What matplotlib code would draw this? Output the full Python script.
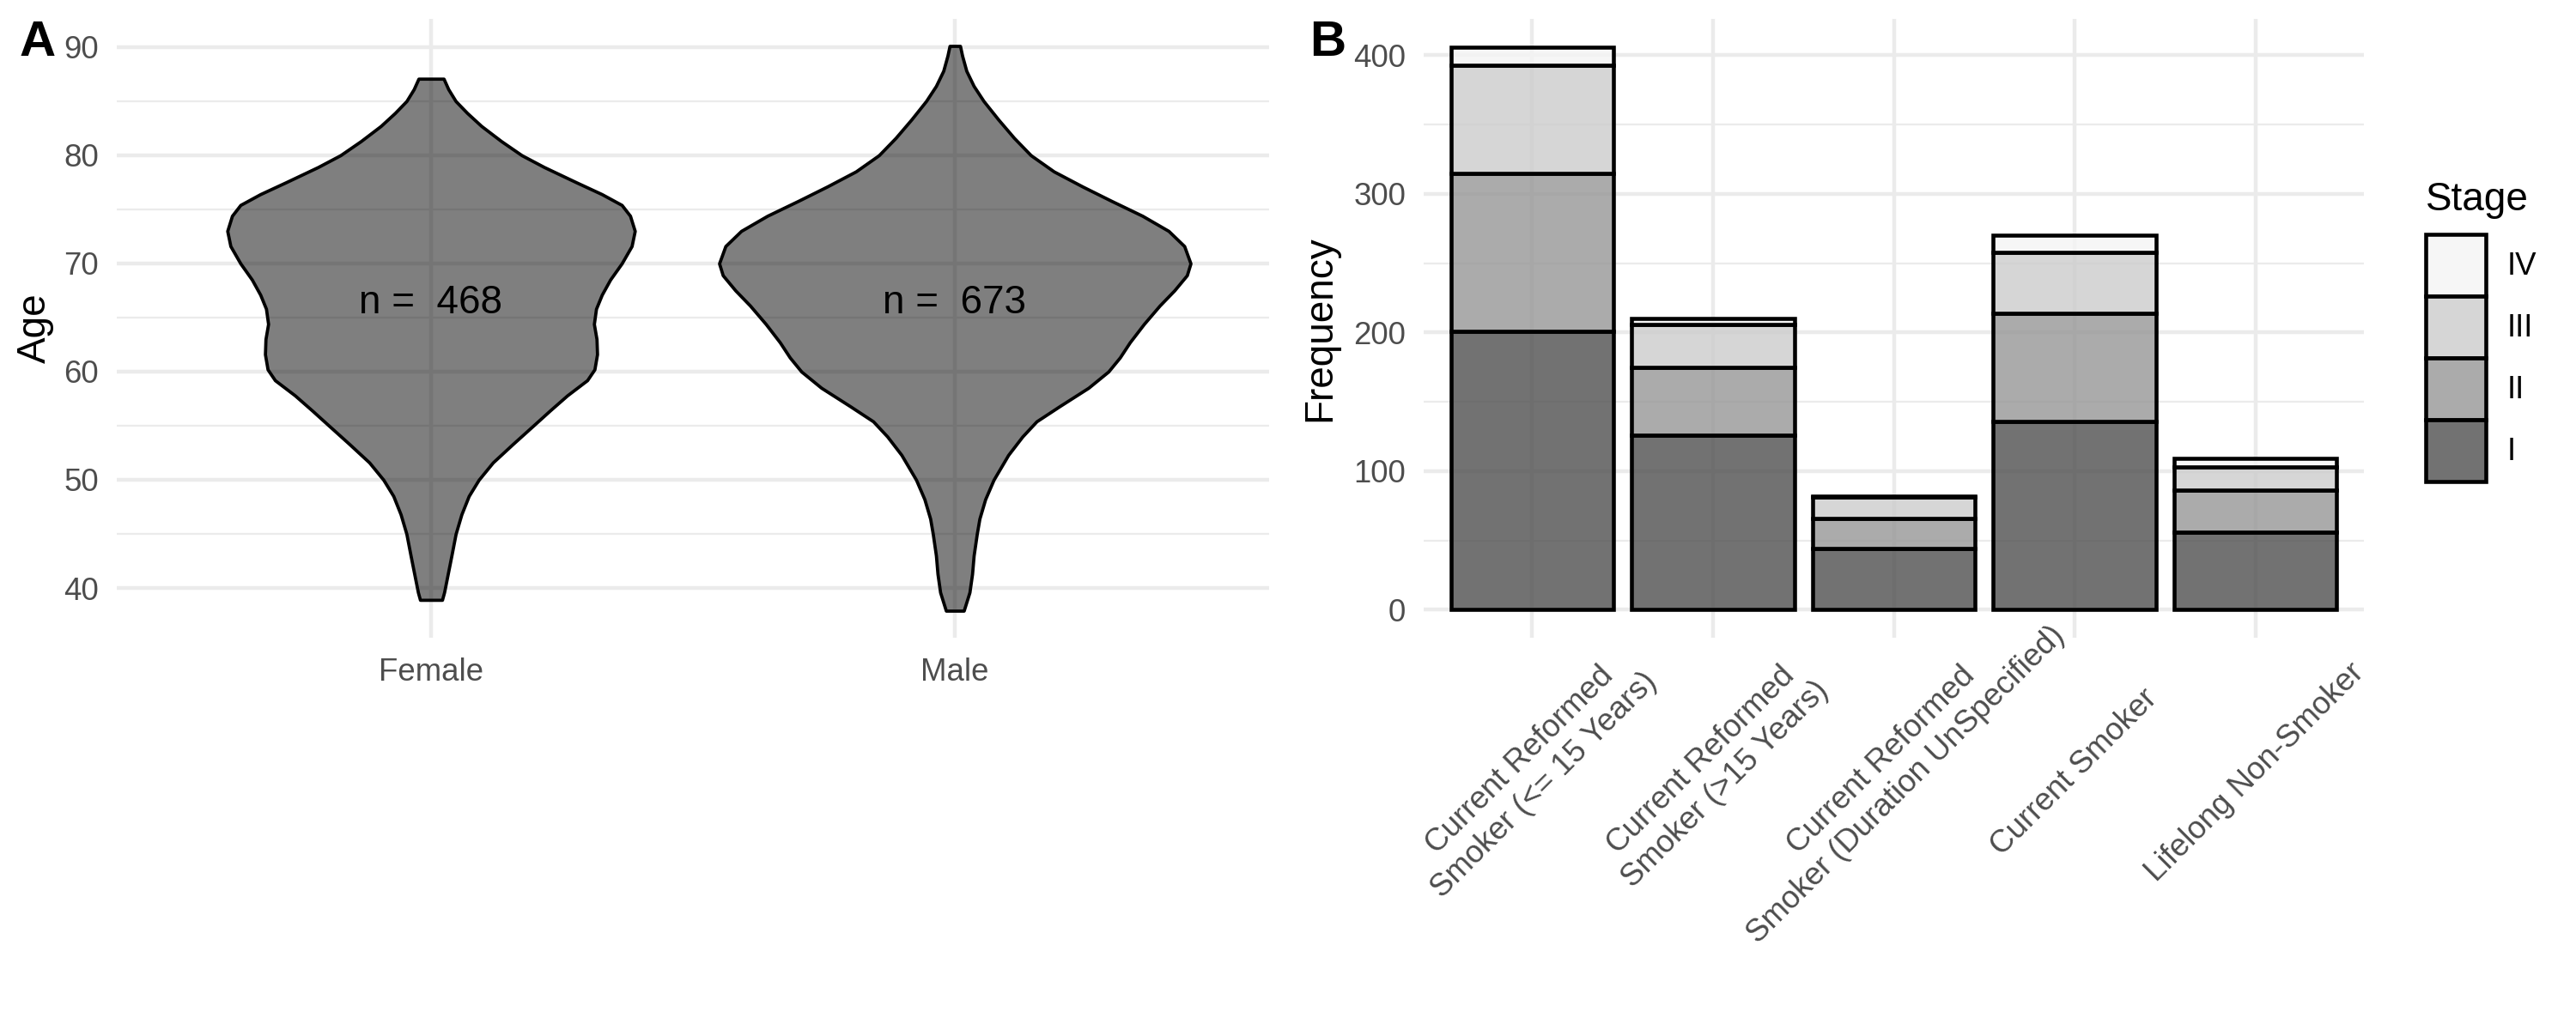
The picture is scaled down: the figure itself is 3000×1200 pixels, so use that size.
#!/usr/bin/env python3
"""
Two-panel figure: age distribution by sex (violin) and stage counts
by smoking history (stacked bars).
"""

import matplotlib
matplotlib.use('Agg')
import matplotlib.pyplot as plt
from matplotlib.patches import Patch

plt.rcParams['font.family'] = ['Liberation Sans', 'DejaVu Sans']

# ---- Panel A data: violin outlines (age, half-width) ----
sexes = ['Female', 'Male']
sex_counts = [468, 673]

female_age = [38.9, 39.6, 41.3, 43.0, 45.0, 46.8, 48.5, 50.0, 51.6, 53.3,
              55.0, 56.4, 57.8, 59.2, 60.2, 61.6, 63.0, 64.4, 65.8, 67.1,
              68.5, 70.0, 71.6, 73.0, 74.4, 75.4, 76.4, 77.5, 78.9, 80.0,
              81.3, 82.7, 83.9, 85.0, 86.1, 87.07]
female_halfwidth = [0.021, 0.025, 0.032, 0.039, 0.047, 0.058, 0.072, 0.091,
                    0.118, 0.156, 0.195, 0.227, 0.260, 0.298, 0.312, 0.317,
                    0.316, 0.311, 0.315, 0.326, 0.342, 0.364, 0.383, 0.389,
                    0.380, 0.364, 0.326, 0.277, 0.216, 0.173, 0.134, 0.096,
                    0.069, 0.047, 0.033, 0.024]

male_age = [37.9, 39.6, 41.3, 43.0, 45.0, 46.4, 48.2, 50.0, 52.3, 54.0,
            55.4, 56.8, 58.5, 60.0, 61.3, 62.7, 64.4, 66.1, 67.5, 68.9,
            70.0, 71.6, 73.0, 74.4, 75.8, 77.1, 78.5, 80.0, 81.6, 83.3,
            85.0, 86.4, 87.8, 89.2, 90.1]
male_halfwidth = [0.017, 0.028, 0.033, 0.036, 0.042, 0.047, 0.058, 0.074,
                  0.102, 0.129, 0.156, 0.200, 0.255, 0.293, 0.315, 0.334,
                  0.361, 0.391, 0.419, 0.443, 0.450, 0.438, 0.408, 0.358,
                  0.298, 0.244, 0.189, 0.145, 0.113, 0.083, 0.055, 0.036,
                  0.022, 0.014, 0.010]

# ---- Panel B data: stage counts per smoking category ----
smoking_categories = [
    'Current Reformed\nSmoker (<= 15 Years)',
    'Current Reformed\nSmoker (>15 Years)',
    'Current Reformed\nSmoker (Duration UnSpecified)',
    'Current Smoker',
    'Lifelong Non-Smoker',
]
stages = ['I', 'II', 'III', 'IV']
stage_I = [201, 126, 44, 136, 56]
stage_II = [114, 49, 22, 78, 30]
stage_III = [78, 31, 15, 44, 17]
stage_IV = [13, 4, 1, 12, 6]

# ---- Style ----
GRID = '#EBEBEB'
TICK_COLOR = '#4D4D4D'
stage_colors = ['#4F4F4F', '#969696', '#CCCCCC', '#F4F4F4']
BAR_ALPHA = 0.8


def style_axes(ax):
    for s in ax.spines.values():
        s.set_visible(False)
    ax.set_axisbelow(True)
    ax.grid(which='major', color=GRID, linewidth=1.07)
    ax.grid(which='minor', axis='y', color=GRID, linewidth=0.55)
    ax.tick_params(which='both', length=0, labelsize=8.8, labelcolor=TICK_COLOR)
    ax.tick_params(axis='y', pad=5)


fig = plt.figure(figsize=(10, 4), dpi=300)

# ---------------- Panel A ----------------
ax_a = fig.add_axes([136 / 3000, 1 - 743 / 1200, 1342 / 3000, 721 / 1200])
style_axes(ax_a)
ax_a.set_xlim(0.4, 2.6)
ax_a.set_ylim(35.4, 92.6)
ax_a.set_yticks([40, 50, 60, 70, 80, 90])
ax_a.set_yticks([45, 55, 65, 75, 85], minor=True)
ax_a.set_xticks([1, 2], labels=sexes)
ax_a.tick_params(axis='x', pad=5.5)

outlines = [(female_age, female_halfwidth), (male_age, male_halfwidth)]
for pos, (ages, hw) in enumerate(outlines, start=1):
    ax_a.fill_betweenx(ages, [pos - w for w in hw], [pos + w for w in hw],
                       facecolor=(0, 0, 0, 0.5), edgecolor='black',
                       linewidth=0.9, joinstyle='round', zorder=2)
for pos, n in enumerate(sex_counts, start=1):
    ax_a.text(pos, 65.4, f'n =  {n}', ha='center', va='baseline',
              fontsize=11, color='black', zorder=3)

ax_a.set_ylabel('Age', fontsize=11, labelpad=2.75)

# ---------------- Panel B ----------------
ax_b = fig.add_axes([1658 / 3000, 1 - 743 / 1200, 1095 / 3000, 721 / 1200])
style_axes(ax_b)
x = list(range(1, len(smoking_categories) + 1))
ax_b.set_xlim(0.4, len(x) + 0.6)
ax_b.set_ylim(-20.3, 426.3)
ax_b.set_yticks([0, 100, 200, 300, 400])
ax_b.set_yticks([50, 150, 250, 350], minor=True)

bottom = [0] * len(x)
for stage, counts, color in zip(stages, [stage_I, stage_II, stage_III, stage_IV], stage_colors):
    ax_b.bar(x, counts, width=0.9, bottom=bottom,
             color=matplotlib.colors.to_rgba(color, BAR_ALPHA),
             edgecolor='black', linewidth=1.1, zorder=2)
    bottom = [b + c for b, c in zip(bottom, counts)]

ax_b.set_xticks(x, labels=smoking_categories)
ax_b.tick_params(axis='x', pad=37.7)
for lbl in ax_b.get_xticklabels():
    lbl.set_rotation(45)
    lbl.set_ha('center')
    lbl.set_va('center')
    lbl.set_multialignment('center')

ax_b.set_ylabel('Frequency', fontsize=11, labelpad=4)

# Legend (IV on top)
handles = [Patch(facecolor=matplotlib.colors.to_rgba(c, BAR_ALPHA), edgecolor='black',
                 linewidth=1.1) for c in stage_colors][::-1]
fig.legend(handles, stages[::-1], loc='upper left',
           bbox_to_anchor=(2825 / 3000, 1 - 273 / 1200),
           frameon=False, fontsize=8.8, handlelength=1.9, handleheight=2.64,
           handletextpad=0.68, labelspacing=0.0, borderpad=0, borderaxespad=0)
fig.text(2825 / 3000, 1 - 245 / 1200, 'Stage', fontsize=11, ha='left', va='baseline')

# Panel tags
fig.text(23 / 3000, 1 - 23 / 1200, 'A', fontsize=14, fontweight='bold', ha='left', va='top')
fig.text(1525 / 3000, 1 - 23 / 1200, 'B', fontsize=14, fontweight='bold', ha='left', va='top')

fig.savefig('out.png', dpi=300)
plt.close(fig)
